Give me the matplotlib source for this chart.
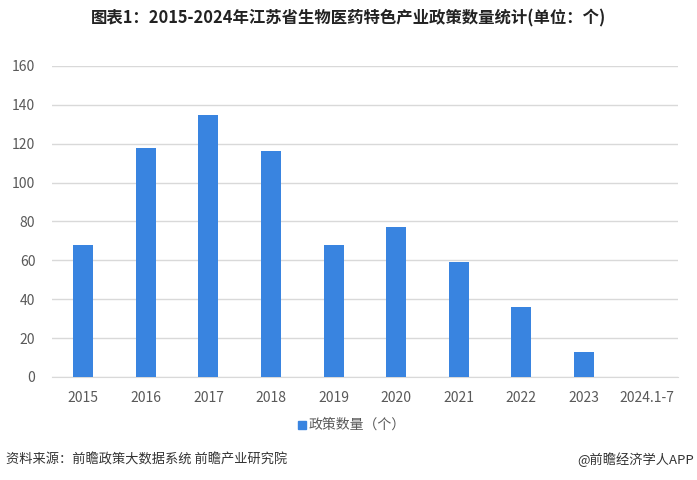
import matplotlib
matplotlib.use("Agg")
import matplotlib.pyplot as plt
from matplotlib.patches import Rectangle

plt.rcParams['font.family'] = ['Noto Sans CJK SC', 'DejaVu Sans']

categories = ['2015', '2016', '2017', '2018', '2019', '2020', '2021', '2022', '2023', '2024.1-7']
values = [68, 118, 135, 116, 68, 77, 59, 36, 13, 0]
yticks = [0, 20, 40, 60, 80, 100, 120, 140, 160]

bar_color = '#3984e0'
text_color = '#595959'

fig = plt.figure(figsize=(6.97, 4.80), dpi=100)
ax = fig.add_axes([0.0746, 0.2146, 0.898, 0.648])
x = list(range(len(categories)))
ax.bar(x, values, width=0.32, color=bar_color, zorder=3)
ax.set_xlim(-0.5, len(categories) - 0.5)
ax.set_ylim(0, 160)
ax.set_yticks(yticks)
ax.set_xticks(x)
ax.set_xticklabels(categories)
ax.grid(axis='y', color='#d9d9d9', linewidth=1, zorder=0)
for s in ['top', 'right', 'left']:
    ax.spines[s].set_visible(False)
ax.spines['bottom'].set_color('#d9d9d9')
ax.tick_params(axis='both', length=0, colors=text_color, labelsize=10)
ax.tick_params(axis='x', pad=10)
ax.tick_params(axis='y', pad=12)

fig.text(0.5, 0.962, '图表1：2015-2024年江苏省生物医药特色产业政策数量统计(单位：个)',
         ha='center', va='center', fontsize=11.8, fontweight='bold', color='#222222')

# legend
fig.patches.append(Rectangle((0.428, 0.107), 0.011, 0.016, transform=fig.transFigure,
                             color=bar_color, figure=fig))
fig.text(0.442, 0.115, '政策数量（个）', ha='left', va='center', fontsize=10, color=text_color)

fig.text(0.008, 0.042, '资料来源：前瞻政策大数据系统 前瞻产业研究院', ha='left', va='center',
         fontsize=9.5, color='#333333')
fig.text(0.995, 0.042, '@前瞻经济学人APP', ha='right', va='center',
         fontsize=9.5, color='#333333')

fig.savefig('out.png', dpi=100)
